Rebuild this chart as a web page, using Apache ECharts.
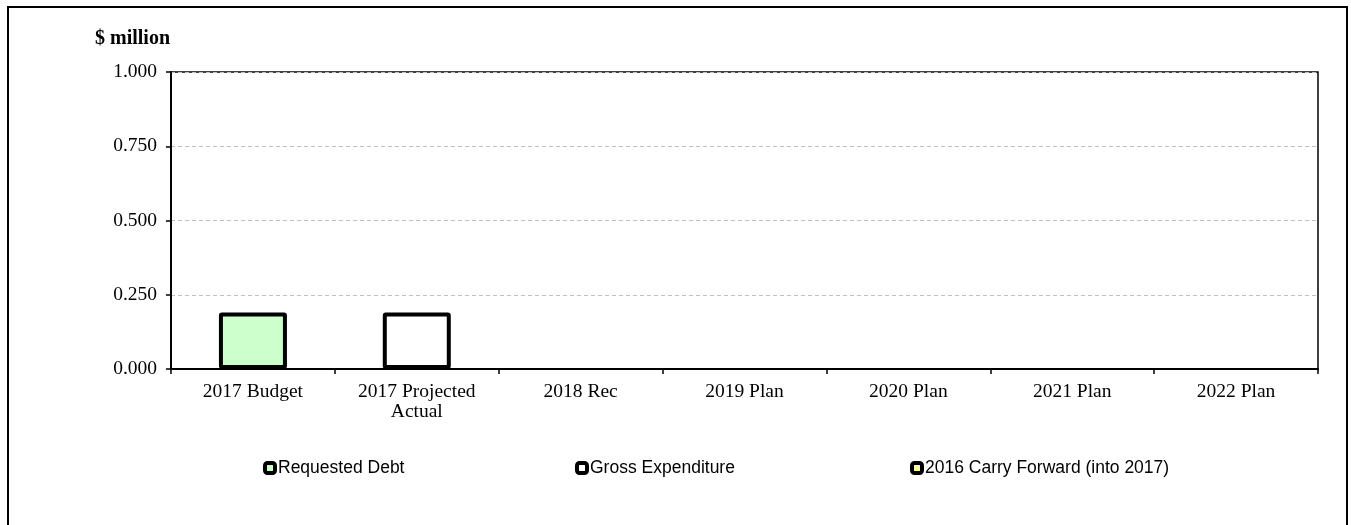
<!DOCTYPE html>
<html>
<head>
<meta charset="utf-8">
<script src="https://cdn.jsdelivr.net/npm/echarts@6/dist/echarts.min.js"></script>
<style>
html,body{margin:0;padding:0;background:#fff;}
#chart{width:1351px;height:525px;}
</style>
</head>
<body>
<div id="chart"></div>
<script>
var categories = ['2017 Budget', '2017 Projected\nActual', '2018 Rec', '2019 Plan', '2020 Plan', '2021 Plan', '2022 Plan'];
var requestedDebt = [0.19, 0, 0, 0, 0, 0, 0];
var grossExpenditure = [0, 0.19, 0, 0, 0, 0, 0];
var carryForward = [0, 0, 0, 0, 0, 0, 0];
var seriesNames = ['Requested Debt', 'Gross Expenditure', '2016 Carry Forward (into 2017)'];
var seriesColors = ['#CCFFCC', '#FFFFFF', '#FFFF99'];
var yTicks = [0, 0.25, 0.5, 0.75, 1.0];

var serif = 'Liberation Serif, Times New Roman, serif';
var sans = 'Liberation Sans, Arial, sans-serif';

function toBars(arr){ return arr.map(function(v){ return v === 0 ? null : v; }); }

var chart = echarts.init(document.getElementById('chart'), null, {renderer: 'canvas'});
var dataSets = [requestedDebt, grossExpenditure, carryForward];
var legendLefts = [263, 575, 910];

var option = {
  animation: false,
  backgroundColor: '#fff',
  graphic: [
    {type: 'rect', shape: {x: 8, y: 7, width: 1339, height: 540}, style: {fill: 'none', stroke: '#000', lineWidth: 2}, silent: true},
    {type: 'text', x: 95, y: 39, style: {text: '$ million', font: 'bold 20px ' + serif, fill: '#000', textVerticalAlign: 'middle'}}
  ],
  legend: seriesNames.map(function(n, i){
    return {
      data: [n], left: legendLefts[i], top: 459, padding: 0, itemWidth: 10, itemHeight: 10, itemGap: 4,
      icon: 'roundRect',
      itemStyle: {borderColor: '#000', borderWidth: 4},
      textStyle: {fontFamily: sans, fontSize: 17.5, color: '#000', padding: [0, 0, 0, -2]}
    };
  }),
  grid: {left: 171, right: 33, top: 72, bottom: 156, show: true, borderColor: '#000', borderWidth: 1.5, containLabel: false},
  xAxis: {
    type: 'category', data: categories,
    axisLine: {lineStyle: {color: '#000', width: 2}},
    axisTick: {show: true, length: 5, lineStyle: {color: '#000', width: 1.5}},
    axisLabel: {fontFamily: serif, fontSize: 19.5, color: '#000', margin: 13, lineHeight: 20, interval: 0}
  },
  yAxis: {
    type: 'value', min: 0, max: 1, interval: 0.25,
    axisLine: {show: true, lineStyle: {color: '#000', width: 2}},
    axisTick: {show: true, length: 5, lineStyle: {color: '#000', width: 1.5}},
    axisLabel: {fontFamily: serif, fontSize: 19.5, color: '#000', margin: 14, formatter: function(v){ return v.toFixed(3); }},
    splitLine: {show: true, lineStyle: {color: '#c0c0c0', type: [4, 3], width: 1}}
  },
  series: seriesNames.map(function(n, i){
    return {
      name: n, type: 'bar', stack: 'total', barWidth: 68,
      data: toBars(dataSets[i]),
      itemStyle: {color: seriesColors[i], borderColor: '#000', borderWidth: 4, borderRadius: 1}
    };
  })
};
chart.setOption(option);
</script>
</body>
</html>
